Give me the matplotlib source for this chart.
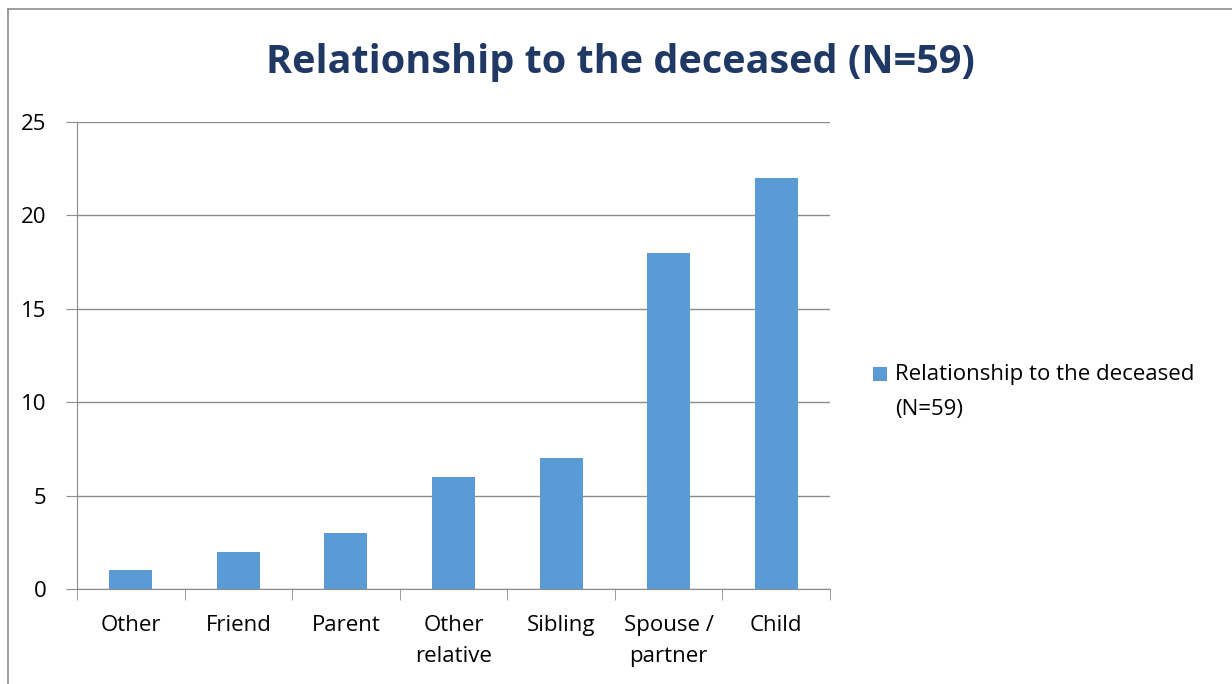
import matplotlib
matplotlib.use("Agg")
import matplotlib.pyplot as plt
from matplotlib.lines import Line2D
from matplotlib.patches import Rectangle
import numpy as np

categories = ["Other", "Friend", "Parent", "Other\nrelative", "Sibling", "Spouse /\npartner", "Child"]
values = [1, 2, 3, 6, 7, 18, 22]
series_name = "Relationship to the deceased\n(N=59)"
title = "Relationship to the deceased (N=59)"
yticks = [0, 5, 10, 15, 20, 25]

plt.rcParams['font.family'] = ['Open Sans', 'DejaVu Sans']
W, H = 1232, 684
fig = plt.figure(figsize=(W/100, H/100), dpi=100)
ax = fig.add_axes([77/W, 1-589/H, (830-77)/W, (589-122)/H])

gray = "#8c8c8c"
fs = 16
x = np.arange(len(categories))
ax.bar(x, values, width=0.4, color="#5B9BD5", zorder=3)
ax.set_xlim(-0.5, len(categories)-0.5)
ax.set_ylim(0, 25)
ax.set_yticks(yticks)
ax.set_yticklabels([str(t) for t in yticks])
ax.yaxis.grid(True, color=gray, linewidth=1)
ax.set_axisbelow(True)
ax.set_xticks(x)
ax.set_xticklabels(categories, linespacing=1.6)
ax.set_xticks(np.arange(-0.5, len(categories)), minor=True)
ax.tick_params(axis='x', which='major', length=0, pad=19, labelsize=fs)
ax.tick_params(axis='x', which='minor', length=8, color=gray, direction='out')
ax.tick_params(axis='y', length=8, color=gray, pad=14, labelsize=fs)
for s in ['top', 'right']:
    ax.spines[s].set_visible(False)
ax.spines['left'].set_color(gray)
ax.spines['bottom'].set_color(gray)

fig.text(620/W, 1-62/H, title, ha='center', va='center', fontsize=28.5,
         fontweight='bold', color="#1F3864")

# legend
fig.patches.append(Rectangle((873/W, 1-381/H), 14/W, 14/H, transform=fig.transFigure,
                             facecolor="#5B9BD5", edgecolor='none'))
fig.text(895/W, 1-364/H, series_name, ha='left', va='top', fontsize=fs,
         linespacing=1.85)

# chart frame
fig.add_artist(Line2D([8/W, 1], [1-9/H, 1-9/H], color=gray, linewidth=1.2, transform=fig.transFigure))
fig.add_artist(Line2D([8/W, 8/W], [0, 1-9/H], color=gray, linewidth=1.2, transform=fig.transFigure))

fig.savefig("out.png", dpi=100)
